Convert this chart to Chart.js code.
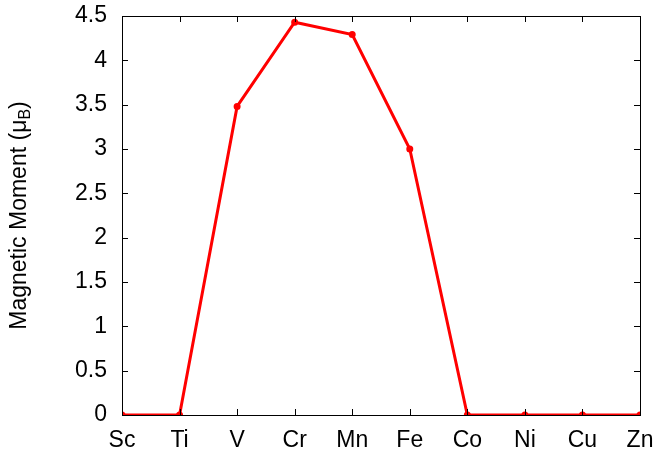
<!DOCTYPE html>
<html>
<head>
<meta charset="utf-8">
<script src="https://cdn.jsdelivr.net/npm/chart.js@4"></script>
<style>
  html, body { margin: 0; padding: 0; background: #fff; }
</style>
</head>
<body>
<canvas id="momentChart" width="656" height="456"></canvas>
<script>
const elements = ['Sc', 'Ti', 'V', 'Cr', 'Mn', 'Fe', 'Co', 'Ni', 'Cu', 'Zn'];
const moments = [0, 0, 3.48, 4.43, 4.29, 3.0, 0, 0, 0, 0];
const yTicks = [0, 0.5, 1, 1.5, 2, 2.5, 3, 3.5, 4, 4.5];

const FONT = 'Liberation Sans, Arial, Helvetica, sans-serif';

// gnuplot-like frame with inward ticks on all four sides + rotated axis title
const framePlugin = {
    id: 'frame',
    afterDraw(chart) {
        const ctx = chart.ctx;
        const a = chart.chartArea;
        const x = chart.scales.x;
        const y = chart.scales.y;
        const len = 6;
        ctx.save();
        ctx.strokeStyle = '#000';
        ctx.lineWidth = 1;
        ctx.beginPath();
        elements.forEach((e, i) => {
            const px = Math.round(x.getPixelForValue(i)) + 0.5;
            ctx.moveTo(px, a.bottom); ctx.lineTo(px, a.bottom - len);
            ctx.moveTo(px, a.top); ctx.lineTo(px, a.top + len);
        });
        yTicks.forEach(v => {
            const py = Math.round(y.getPixelForValue(v)) + 0.5;
            ctx.moveTo(a.left, py); ctx.lineTo(a.left + len, py);
            ctx.moveTo(a.right, py); ctx.lineTo(a.right - len, py);
        });
        ctx.stroke();
        ctx.strokeRect(Math.round(a.left) + 0.5, Math.round(a.top) + 0.5,
                       Math.round(a.right - a.left), Math.round(a.bottom - a.top));

        // axis title with subscript
        ctx.translate(26, (a.top + a.bottom) / 2);
        ctx.rotate(-Math.PI / 2);
        ctx.fillStyle = '#000';
        ctx.textBaseline = 'alphabetic';
        const main = 'Magnetic Moment (\u03bc';
        ctx.font = '23px ' + FONT;
        const w1 = ctx.measureText(main).width;
        ctx.font = '16px ' + FONT;
        const wSub = ctx.measureText('B').width;
        ctx.font = '23px ' + FONT;
        const w3 = ctx.measureText(')').width;
        const total = w1 + wSub + w3;
        let cx = -total / 2;
        ctx.textAlign = 'left';
        ctx.fillText(main, cx, 0);
        cx += w1;
        ctx.font = '16px ' + FONT;
        ctx.fillText('B', cx, 4);
        cx += wSub;
        ctx.font = '23px ' + FONT;
        ctx.fillText(')', cx, 0);
        ctx.restore();
    }
};

const noPad = s => { s.paddingTop = 0; s.paddingBottom = 0; s.paddingLeft = 0; s.paddingRight = 0; };

const ctx = document.getElementById('momentChart').getContext('2d');
new Chart(ctx, {
    type: 'line',
    data: {
        datasets: [{
            label: 'Magnetic Moment',
            data: moments.map((m, i) => ({ x: i, y: m })),
            borderColor: '#ff0000',
            backgroundColor: '#ff0000',
            borderWidth: 3,
            pointRadius: 2,
            pointStyle: 'circle',
            tension: 0
        }]
    },
    options: {
        responsive: false,
        animation: false,
        layout: { padding: { top: 16, right: 16, left: 0, bottom: 0 } },
        plugins: { legend: { display: false }, tooltip: { enabled: false } },
        scales: {
            x: {
                type: 'linear',
                min: 0,
                max: elements.length - 1,
                grid: { display: false, drawTicks: false },
                border: { display: false },
                afterBuildTicks: s => { s.ticks = elements.map((e, i) => ({ value: i })); },
                afterFit: s => { s.height = 41; noPad(s); },
                ticks: {
                    autoSkip: false,
                    maxRotation: 0,
                    padding: 12,
                    color: '#000',
                    font: { family: FONT, size: 23 },
                    callback: v => elements[v]
                }
            },
            y: {
                min: 0,
                max: 4.5,
                grid: { display: false, drawTicks: false },
                border: { display: false },
                afterBuildTicks: s => { s.ticks = yTicks.map(v => ({ value: v })); },
                afterFit: s => { s.width = 122; noPad(s); },
                ticks: {
                    padding: 15,
                    color: '#000',
                    font: { family: FONT, size: 23 },
                    callback: v => String(v)
                }
            }
        }
    },
    plugins: [framePlugin]
});
</script>
</body>
</html>
